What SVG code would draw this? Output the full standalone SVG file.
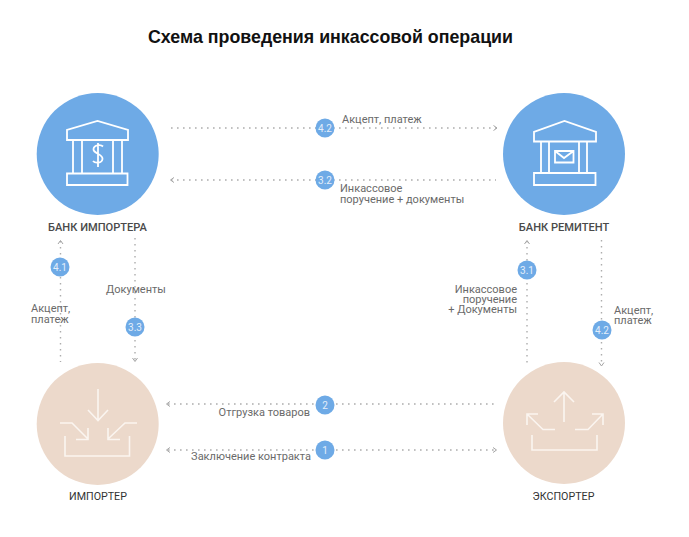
<svg xmlns="http://www.w3.org/2000/svg" width="689" height="537" viewBox="0 0 689 537">
<style>
.t{font-family:Roboto,"Liberation Sans",sans-serif;font-size:11px;fill:#6a6a6a}
.n{font-family:Roboto,"Liberation Sans",sans-serif;font-size:11.100px;font-weight:500;fill:#4a4a4a;text-anchor:middle}
.m{font-family:Roboto,"Liberation Sans",sans-serif;font-size:10.700px;fill:#333;text-anchor:middle}
.b{font-family:Roboto,"Liberation Sans",sans-serif;font-size:10px;fill:#e4eefa;text-anchor:middle}
.title{font-family:"Liberation Sans",Arial,sans-serif;font-size:18.500px;font-weight:700;fill:#111}
.d{fill:none;stroke:#adadad;stroke-width:1.400;stroke-dasharray:1.600 4.400}
.a{fill:none;stroke:#a3a3a3;stroke-width:1}
.blue{fill:#6eaae6}
.sand{fill:#ecd9cb}
.i{fill:none;stroke:#fff;stroke-width:1.800}
.i2{fill:none;stroke:#fbf5f0;stroke-width:1.600}
.r{text-anchor:end}
</style>
<rect width="689" height="537" fill="#fff"/>
<text class="title" x="148" y="43" textLength="365" lengthAdjust="spacingAndGlyphs">Схема проведения инкассовой операции</text>
<g id="connectors">
<path class="d" d="M171 128H497"/><path class="a" d="M493.500 125.500L497 128L493.500 130.500"/>
<path class="d" d="M171 180H496"/><path class="a" d="M174 177.500L170.500 180L174 182.500"/>
<path class="d" d="M168 404H497"/><path class="a" d="M170 401.500L166.500 404L170 406.500"/>
<path class="d" d="M168 450H497"/><path class="a" d="M170 447.500L166.500 450L170 452.500"/><path class="a" d="M493 447.500L496.500 450L493 452.500"/>
<path class="d" d="M60.500 241V362"/><path class="a" d="M58 244L60.500 240.500L63 244"/>
<path class="d" d="M135 238V362"/><path class="a" d="M132.500 358L135 361.500L137.500 358"/>
<path class="d" d="M527 241V365"/><path class="a" d="M524.500 244L527 240.500L529.500 244"/>
<path class="d" d="M601.500 240V365"/><path class="a" d="M599 362.500L601.500 366L604 362.500"/>
</g>
<g id="bank-importer">
<circle class="blue" cx="97.700" cy="154" r="61"/>
<path class="i" d="M67 140V130L97.500 121L128 130V140Z M73 140V173M82 140V173M113 140V173M122 140V173M67 173.500H127.500V185H67Z"/>
<path class="i" d="M103 146.500C101 144.500 94 144.500 93.500 149C93 154 103 153.500 102.500 159C102 163.500 95 163.500 93 161M98 143V167" stroke-width="1.400"/>
<text class="n" x="97.500" y="231">БАНК ИМПОРТЕРА</text>
</g>
<g id="bank-remitent">
<circle class="blue" cx="564" cy="154" r="61"/>
<path class="i" d="M534 132V141.500H596V132L564.500 121Z M541 141.500V172M549 141.500V172M579 141.500V172M587 141.500V172M534 173H595.500V185H534Z"/>
<path class="i" d="M555 151H573.500V162.500H555ZM555 151L564 158L573.500 151" stroke-width="1.400"/>
<text class="n" x="564" y="231">БАНК РЕМИТЕНТ</text>
</g>
<g id="importer">
<circle class="sand" cx="97.700" cy="424" r="61"/>
<path class="i2" d="M98 389V420M88 410L98 420.500L108 410M60 423H72L88 439M88 428V439.500H76M137 423H125L108 439M108 428V439.500H120M65 436V456H129.500V436"/>
<text class="m" x="98" y="500">ИМПОРТЕР</text>
</g>
<g id="exporter">
<circle class="sand" cx="564" cy="423" r="61"/>
<path class="i2" d="M564 422V392M554 402L564 392L574 402M555 429.500H543L527 414M527 425V414H538M575 429.500H588L603 414M603 425V414H592M532 435V450H597V435"/>
<text class="m" x="563.500" y="500">ЭКСПОРТЕР</text>
</g>
<g id="badge-4-2-top"><circle class="blue" cx="325" cy="128" r="9.500"/><text class="b" x="325" y="131.500">4.2</text></g>
<g id="badge-3-2"><circle class="blue" cx="325" cy="180" r="9.500"/><text class="b" x="325" y="183.500">3.2</text></g>
<g id="badge-2"><circle class="blue" cx="325" cy="405" r="9.500"/><text class="b" x="325" y="408.500">2</text></g>
<g id="badge-1"><circle class="blue" cx="325" cy="450" r="9.500"/><text class="b" x="325" y="453.500">1</text></g>
<g id="badge-4-1"><circle class="blue" cx="60" cy="267" r="9.500"/><text class="b" x="60" y="270.500">4.1</text></g>
<g id="badge-3-3"><circle class="blue" cx="135" cy="327" r="9.500"/><text class="b" x="135" y="330.500">3.3</text></g>
<g id="badge-3-1"><circle class="blue" cx="527" cy="270" r="9.500"/><text class="b" x="527" y="273.500">3.1</text></g>
<g id="badge-4-2-right"><circle class="blue" cx="602" cy="330" r="9.500"/><text class="b" x="602" y="333.500">4.2</text></g>
<g id="labels">
<text class="t" x="342" y="123">Акцепт, платеж</text>
<text class="t" x="340" y="192">Инкассовое</text>
<text class="t" x="340" y="203">поручение + документы</text>
<text class="t r" x="310" y="416">Отгрузка товаров</text>
<text class="t r" x="311" y="460">Заключение контракта</text>
<text class="t" x="31" y="312">Акцепт,</text>
<text class="t" x="31" y="323">платеж</text>
<text class="t" x="106" y="293">Документы</text>
<text class="t r" x="517" y="293">Инкассовое</text>
<text class="t r" x="517" y="303">поручение</text>
<text class="t r" x="517" y="313">+ Документы</text>
<text class="t" x="614" y="314">Акцепт,</text>
<text class="t" x="614" y="324">платеж</text>
</g>
</svg>
